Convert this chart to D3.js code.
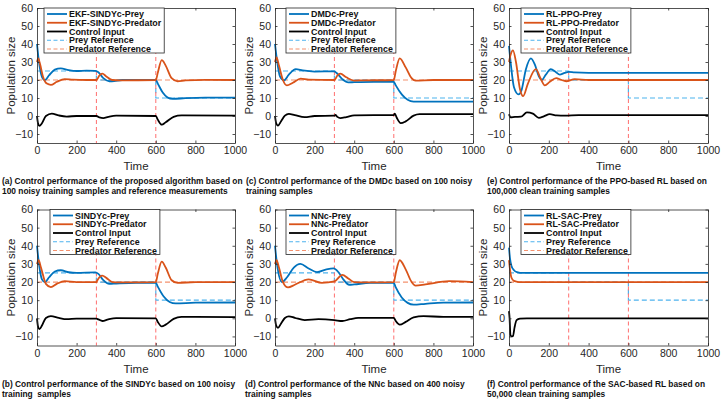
<!DOCTYPE html>
<html>
<head>
<meta charset="utf-8">
<script src="https://cdn.jsdelivr.net/npm/d3@7"></script>
<style>
  body { margin: 0; background: #fff; }
  svg { display: block; font-family: "Liberation Sans", Arial, Helvetica, sans-serif; }
  .caption { font-weight: bold; font-size: 8.4px; fill: #111; white-space: pre; }
  .tick text { font-size: 10.5px; fill: #262626; }
  .legend text { font-weight: bold; font-size: 8.9px; fill: #111; }
</style>
</head>
<body>
<svg id="chart" width="722" height="402"></svg>
<script>
// shared axis values
const xTicks = [0, 200, 400, 600, 800, 1000];
const yTicks = [-10, 0, 10, 20, 30, 40, 50, 60];
const switchTimes = [300, 600];
const preyRef = [[0, 25], [300, 20], [600, 10], [1000, 10]];
const predatorRef = [[0, 20], [1000, 20]];

// (a) EKF-SINDYc
const ekfPrey = [[0,40],[10,30],[25,21.8],[40,20],[60,22.5],[90,25.8],[120,26.5],[160,25.5],[200,25],[250,25.2],[295,25.1],[310,24.3],[335,21],[365,19.3],[390,19.4],[430,20],[600,20],[610,18],[635,13],[660,10.2],[685,9.5],[750,9.9],[850,10.2],[1000,10.2]];
const ekfPredator = [[0,30],[6,32],[15,29],[30,22],[50,18],[70,17.3],[100,19],[140,20.5],[180,20.2],[250,20],[300,20],[315,22.5],[330,23.5],[350,22],[380,20],[420,19.8],[600,20],[610,24],[630,31],[650,28],[680,21],[710,19.3],[750,19.8],[850,20.1],[1000,20]];
const ekfControl = [[0,0],[5,-4],[12,-5.5],[25,-4],[45,0],[75,1.3],[110,0.3],[150,-0.3],[200,0],[300,0],[315,-0.8],[335,-1.2],[360,-0.5],[400,0.2],[600,0],[610,-2],[630,-4.8],[650,-3.5],[690,-0.5],[730,0.3],[1000,0.2]];

// (c) DMDc
const dmdPrey = [[0,40],[10,31],[25,22],[45,19.8],[70,23],[105,26],[140,25.3],[200,24.7],[300,24.8],[310,24],[340,20.5],[370,18.7],[400,18.8],[500,19],[600,19],[610,17],[640,12],[670,9],[700,8],[800,8],[1000,8]];
const dmdPredator = [[0,30],[8,32.5],[20,28],[40,20],[60,17],[90,18.5],[130,20.8],[170,20.2],[300,20],[315,22.5],[330,23.5],[360,21.5],[400,19.7],[450,19.8],[600,20],[610,25],[630,32],[660,27],[690,21],[710,19.6],[800,20],[1000,20]];
const dmdControl = [[0,0],[6,-4],[15,-5.3],[30,-3],[50,0.2],[70,1.2],[100,0.5],[150,-0.6],[200,0],[300,0.2],[305,0.6],[315,-0.5],[330,-1.2],[360,-0.6],[400,0.4],[600,0.5],[605,1.3],[615,-1],[635,-4],[660,-3],[700,0.2],[730,1],[1000,1]];

// (e) RL-PPO
const ppoPrey = [[0,39],[10,28],[25,16],[48,12],[62,14],[85,26],[110,32],[130,28.5],[150,22],[165,20],[185,23],[210,26],[235,24.5],[255,23],[280,24],[300,24.5],[330,24.2],[400,24],[1000,24]];
const ppoPredator = [[0,30],[8,34],[20,36.5],[35,30],[55,15],[71,11],[95,18],[135,26],[158,21],[180,17],[205,19],[237,21],[265,20],[290,19.3],[330,20.5],[400,20],[1000,20]];
const ppoControl = [[0,1],[8,-0.8],[30,-0.5],[60,-0.4],[90,2],[120,1.3],[150,-1],[175,-0.2],[205,1],[240,0.3],[280,0.2],[350,0.5],[1000,0.5]];

// (b) SINDYc
const sindyPrey = [[0,40],[10,30],[25,21.5],[40,20],[60,22.5],[90,25.8],[120,26.5],[160,25.4],[200,25],[295,25.3],[310,24.5],[335,21],[365,19],[400,19.2],[500,19.6],[600,19.6],[610,17.5],[640,12],[670,9],[700,8.2],[800,8.6],[1000,8.7]];
const sindyPredator = [[0,30],[8,32],[20,28],[45,19],[70,17.2],[100,19],[140,20.5],[200,20],[300,20],[305,21],[330,23.5],[350,22.3],[380,20],[420,19.8],[600,20],[610,24.5],[630,31.2],[650,28],[680,21],[710,19.5],[800,20],[1000,20]];
const sindyControl = [[0,0],[5,-4.5],[12,-6],[25,-4],[45,0.2],[70,1.2],[110,0.2],[150,-0.5],[200,-0.2],[300,-0.2],[310,-0.6],[330,-1.5],[360,-0.6],[400,0.1],[600,0],[610,-2],[630,-4.5],[650,-3.5],[690,-0.3],[730,0.8],[800,0.8],[1000,0.7]];

// (d) NNc
const nnPrey = [[0,40],[10,30],[35,20],[60,22.5],[95,28],[128,30],[170,27.5],[212,25.5],[260,27],[296,27.5],[320,25.5],[345,21.5],[375,18.5],[400,18.7],[480,19.5],[600,19.5],[610,17],[640,11.5],[670,8.5],[700,7.5],[760,8],[850,8.6],[1000,8.7]];
const nnPredator = [[0,30],[8,32],[20,28],[40,20],[66,17],[100,18.5],[170,21.5],[237,19.5],[300,20.3],[340,24],[370,22],[400,20],[450,19.8],[600,20],[610,25],[630,32],[660,27],[690,20],[710,18],[760,18.7],[880,20.5],[1000,20]];
const nnControl = [[0,0],[6,-4],[15,-5.3],[30,-3],[50,0.2],[70,1.1],[100,0.3],[150,-1],[220,-0.5],[300,-1],[340,-1.5],[380,-0.5],[420,0.2],[600,0.2],[610,-1.5],[630,-3.5],[660,-2],[700,0.5],[750,1.2],[850,0.8],[1000,0.8]];

// (f) RL-SAC
const sacPrey = [[0,39],[5,33],[12,29],[25,26.5],[40,25.5],[70,25],[1000,25]];
const sacPredator = [[0,32],[5,27],[12,22.5],[25,20.6],[50,20],[1000,20]];
const sacControl = [[0,4],[3,0],[7,-9],[12,-10],[20,-9.7],[28,-5],[38,-1],[55,-0.2],[90,0],[1000,0]];

const panels = [
  { name: 'EKF-SINDYc', prey: ekfPrey, predator: ekfPredator, control: ekfControl,
    box: [37, 235, 8, 143], legendDx: 7, capX: 2,
    caption: ['(a) Control performance of the proposed algorithm based on', '100 noisy training samples and reference measurements'] },
  { name: 'DMDc', prey: dmdPrey, predator: dmdPredator, control: dmdControl,
    box: [275, 473, 8, 143], legendDx: 11, capX: 246,
    caption: ['(c) Control performance of the DMDc based on 100 noisy', 'training samples'] },
  { name: 'RL-PPO', prey: ppoPrey, predator: ppoPredator, control: ppoControl,
    box: [509, 708, 8, 143], legendDx: 12, capX: 487,
    caption: ['(e) Control performance of the PPO-based RL based on', '100,000 clean training samples'] },
  { name: 'SINDYc', prey: sindyPrey, predator: sindyPredator, control: sindyControl,
    box: [37, 235, 209.5, 345.5], legendDx: 13, capX: 2,
    caption: ['(b) Control performance of the SINDYc based on 100 noisy', 'training  samples'] },
  { name: 'NNc', prey: nnPrey, predator: nnPredator, control: nnControl,
    box: [275, 473, 209.5, 345.5], legendDx: 11, capX: 245,
    caption: ['(d) Control performance of the NNc based on 400 noisy', 'training samples'] },
  { name: 'RL-SAC', prey: sacPrey, predator: sacPredator, control: sacControl,
    box: [509, 708, 209.5, 345.5], legendDx: 12, capX: 487,
    caption: ['(f) Control performance of the SAC-based RL based on', '50,000 clean training samples'] },
];

const colors = {
  prey: '#0072BD', predator: '#D95319', control: '#000',
  preyRef: '#4DB3EE', predatorRef: '#F4916E', vline: '#FF6E6E', axis: '#262626'
};

const svg = d3.select('#chart');

panels.forEach(p => {
  const [x0, x1, y0, y1] = p.box;
  const g = svg.append('g');

  const x = d3.scaleLinear().domain([0, 1000]).range([x0, x1]);
  const y = d3.scaleLinear().domain([-15, 60]).range([y1, y0]);

  const line = d3.line().x(d => x(d[0])).y(d => y(d[1])).curve(d3.curveMonotoneX);
  const step = d3.line().x(d => x(d[0])).y(d => y(d[1])).curve(d3.curveStepAfter);

  // reference lines
  g.append('path').attr('d', step(predatorRef))
    .attr('fill', 'none').attr('stroke', colors.predatorRef)
    .attr('stroke-width', 1.2).attr('stroke-dasharray', '5,3');
  g.append('path').attr('d', step(preyRef))
    .attr('fill', 'none').attr('stroke', colors.preyRef)
    .attr('stroke-width', 1.2).attr('stroke-dasharray', '5,3');

  // switching instants
  g.selectAll('.vline')
    .data(switchTimes)
    .join('line')
    .attr('class', 'vline')
    .attr('x1', d => x(d)).attr('x2', d => x(d))
    .attr('y1', y0).attr('y2', y1)
    .attr('stroke', colors.vline).attr('stroke-width', 1)
    .attr('stroke-dasharray', '4,3');

  // series
  [['prey', p.prey], ['predator', p.predator], ['control', p.control]].forEach(([k, data]) => {
    g.append('path').attr('d', line(data))
      .attr('fill', 'none').attr('stroke', colors[k])
      .attr('stroke-width', 1.8).attr('stroke-linejoin', 'round');
  });

  // axes, MATLAB style box with inward ticks
  const axes = [
    [d3.axisBottom(x).tickValues(xTicks), `translate(0,${y1})`, true],
    [d3.axisTop(x).tickValues(xTicks), `translate(0,${y0})`, false],
    [d3.axisLeft(y).tickValues(yTicks), `translate(${x0},0)`, true],
    [d3.axisRight(y).tickValues(yTicks), `translate(${x1},0)`, false],
  ];
  axes.forEach(([ax, tr, labels]) => {
    ax.tickSizeInner(-2.5).tickSizeOuter(0).tickPadding(4)
      .tickFormat(labels ? d3.format('d') : '');
    const a = g.append('g').attr('transform', tr).call(ax);
    a.select('.domain').attr('stroke', colors.axis).attr('stroke-width', 0.8);
    a.selectAll('.tick line').attr('stroke', colors.axis).attr('stroke-width', 0.8);
  });

  g.append('text')
    .attr('x', (x0 + x1) / 2).attr('y', y1 + 27)
    .attr('text-anchor', 'middle')
    .style('font-size', '11.5px').attr('fill', colors.axis)
    .text('Time');

  g.append('text')
    .attr('transform', `translate(${x0 - 22},${(y0 + y1) / 2}) rotate(-90)`)
    .attr('text-anchor', 'middle')
    .style('font-size', '11.5px').attr('fill', colors.axis)
    .text('Population size');

  // legend
  const items = [
    [p.name + '-Prey', colors.prey, null, 1.8],
    [p.name + '-Predator', colors.predator, null, 1.8],
    ['Control Input', colors.control, null, 1.8],
    ['Prey Reference', colors.preyRef, '4,2.5', 1.2],
    ['Predator Reference', colors.predatorRef, '4,2.5', 1.2],
  ];
  const lg = g.append('g').attr('class', 'legend')
    .attr('transform', `translate(${x0 + p.legendDx},${y0})`);
  const bg = lg.append('rect').attr('fill', '#fff')
    .attr('stroke', colors.axis).attr('stroke-width', 0.8);
  const rows = lg.selectAll('.row').data(items).join('g')
    .attr('transform', (d, i) => `translate(0,${6 + i * 8.75})`);
  rows.append('line').attr('x1', 3).attr('x2', 23)
    .attr('stroke', d => d[1]).attr('stroke-width', d => d[3])
    .attr('stroke-dasharray', d => d[2]);
  rows.append('text').attr('x', 25).attr('dy', '0.35em').text(d => d[0]);
  const w = d3.max(rows.selectAll('text').nodes(), n => n.getComputedTextLength());
  bg.attr('width', 25 + w + 3).attr('height', 45);

  // caption
  g.selectAll('.caption').data(p.caption).join('text')
    .attr('class', 'caption')
    .attr('x', p.capX).attr('y', (d, i) => y1 + 41 + i * 10)
    .text(d => d);
});
</script>
</body>
</html>
